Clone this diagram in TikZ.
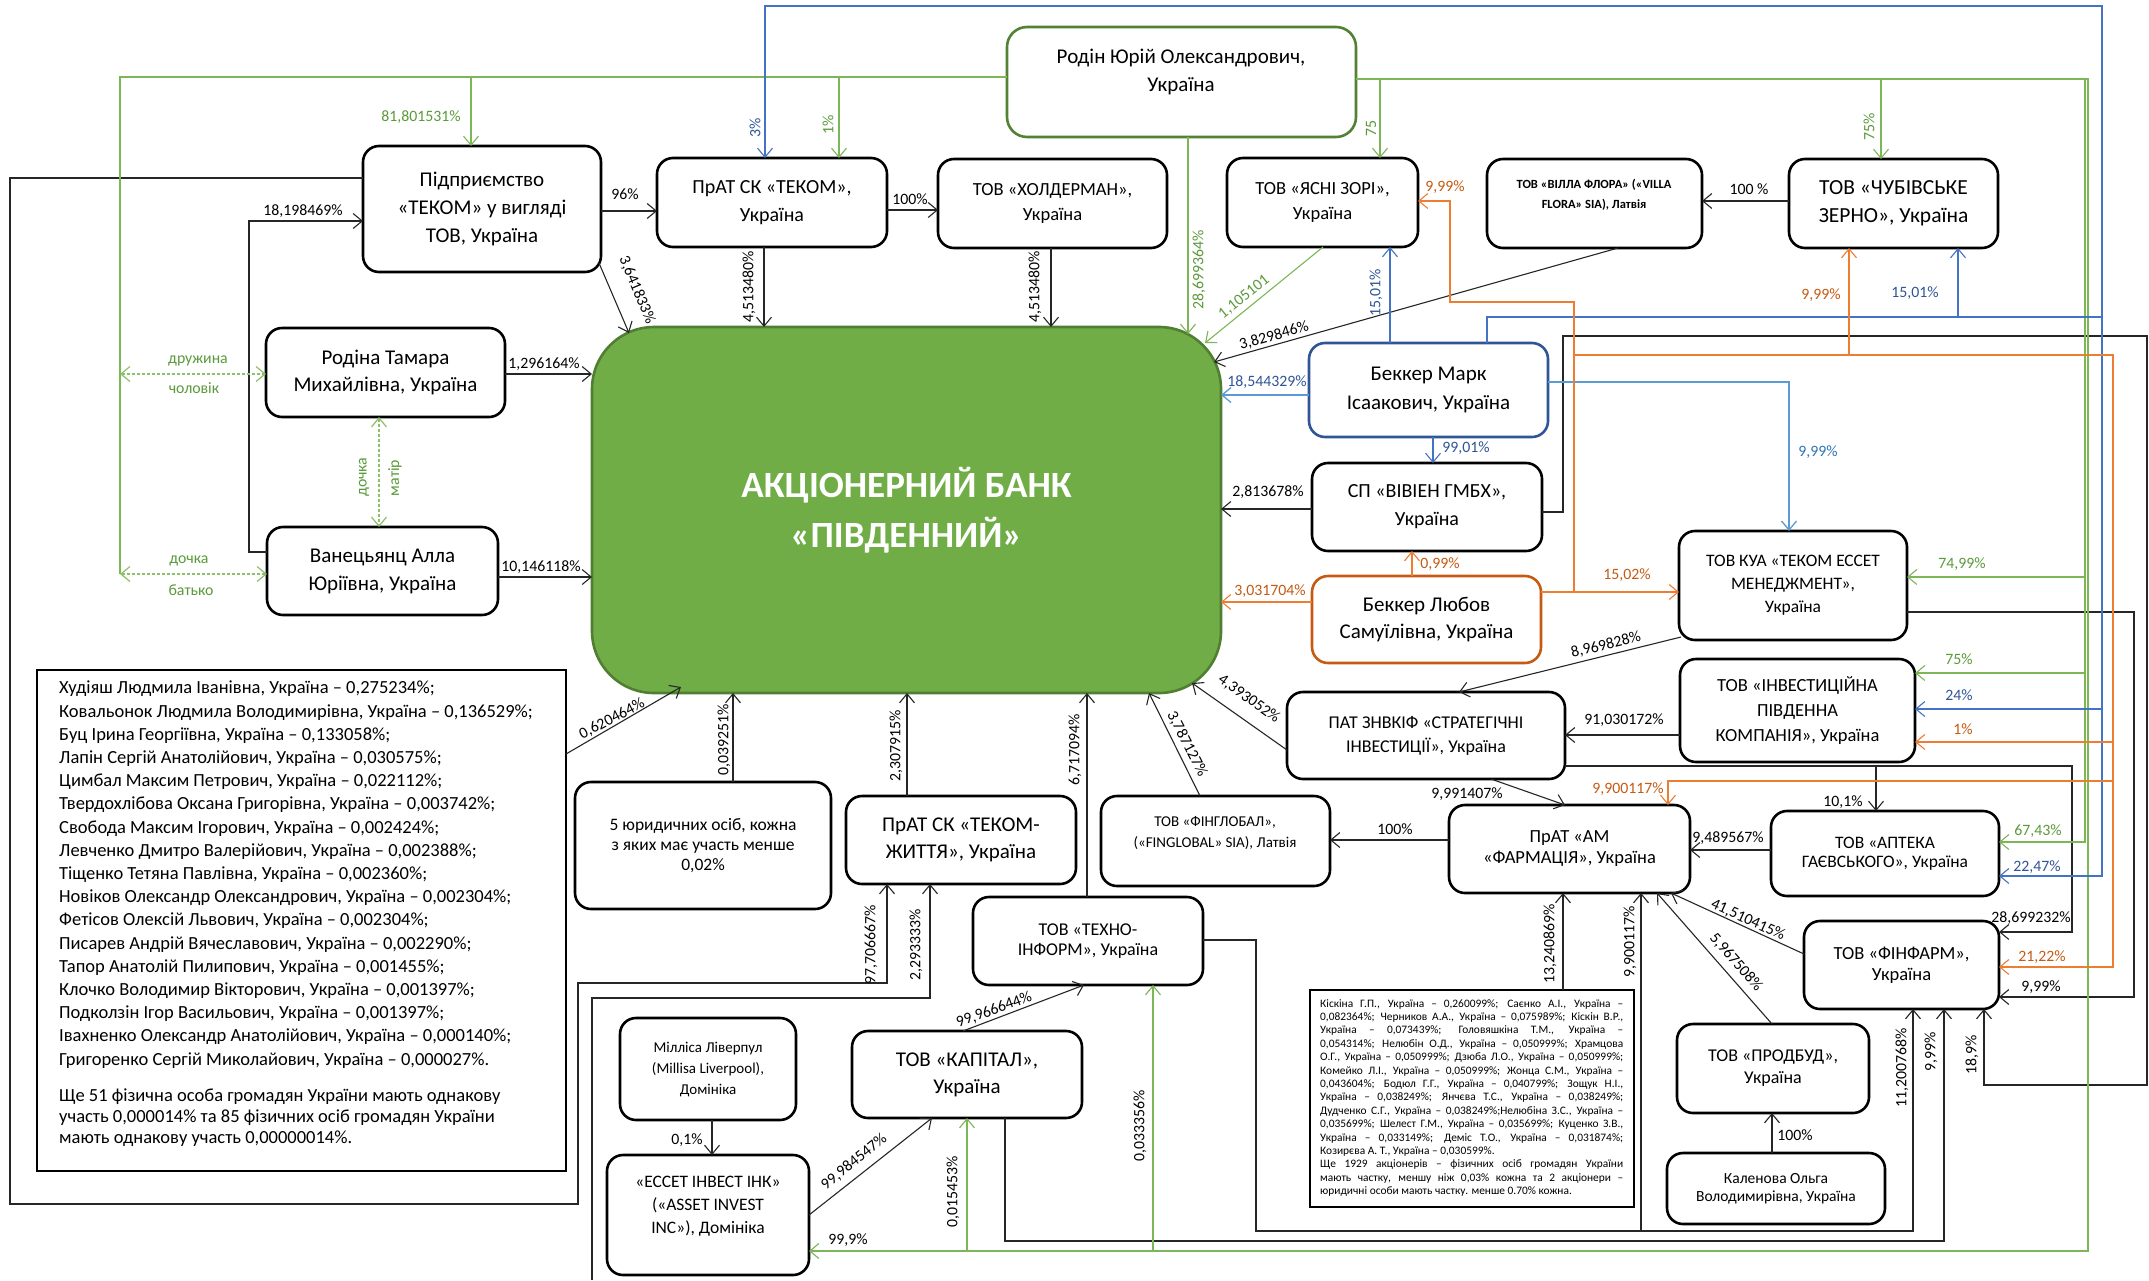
\documentclass[tikz,border=0pt]{standalone}
\usepackage{fontspec}
\setmainfont{Carlito}
\usetikzlibrary{arrows.meta}
\definecolor{bankG}{HTML}{70AD47}
\definecolor{bankD}{HTML}{507E32}
\definecolor{gBorder}{HTML}{548235}
\definecolor{gLine}{HTML}{7DB657}
\definecolor{gLab}{HTML}{5B9A3A}
\definecolor{gDash}{HTML}{8CC06A}
\definecolor{bBorder}{HTML}{2F5597}
\definecolor{bLine}{HTML}{4472C4}
\definecolor{bLight}{HTML}{5B9BD5}
\definecolor{bLab}{HTML}{2F5597}
\definecolor{bLab2}{HTML}{2E75B6}
\definecolor{oBorder}{HTML}{C55A11}
\definecolor{oLine}{HTML}{ED7D31}
\definecolor{oLab}{HTML}{C55A11}
\newcommand\fs[2]{\fontsize{#1}{#2}\selectfont}
\newcounter{lbc}
\newcommand\lb[4][]{\stepcounter{lbc}\node[lab,#1] (lab\thelbc) at (#2,#3) {#4};}
\newcommand\mkbox[7]{\node[box,minimum width={(#4)-(#2)},minimum height={(#5)-(#3)},#6] (#1) at ({((#2)+(#4))/2},{((#3)+(#5))/2}) {#7};}
\begin{document}
\begin{tikzpicture}[x=1pt,y=-1pt,
 box/.style={draw,line width=2.6pt,rounded corners=16pt,inner sep=0pt,outer sep=0pt,align=center,fill=white},
 con/.style={line width=1.1pt,draw=black!85},
 arr/.style={-{Straight Barb[length=9pt,width=15pt]}},
 lab/.style={font=\fs{15.8}{18},inner sep=0pt},
 gl/.style={line width=1.1pt,draw=gLine},
 bl/.style={line width=1.1pt,draw=bLine},
 bll/.style={line width=1.3pt,draw=bLight},
 ol/.style={line width=1.1pt,draw=oLine},
 dsh/.style={line width=1.2pt,draw=gDash,dash pattern=on 3pt off 2pt,{Straight Barb[length=9pt,width=15pt]}-{Straight Barb[length=9pt,width=15pt]}},
 txt/.style={inner sep=0pt,align=center}
]
\useasboundingbox (0,0) rectangle (2149,1280);
\fill[white] (0,0) rectangle (2149,1280);

% ---------- boxes ----------
\mkbox{rodin}{1007}{27}{1356}{137}{draw=gBorder,rounded corners=20pt}{}
\node[txt,font=\fs{21}{28}] (rodinT) at (1181,72) {Родін Юрій Олександрович,\\Україна};
\mkbox{tekom}{363}{146}{601}{272}{font=\fs{21}{28}}{Підприємство\\«ТЕКОМ» у вигляді\\ТОВ, Україна}
\mkbox{ska}{657}{158}{887}{247}{font=\fs{20}{28}}{ПрАТ СК «ТЕКОМ»,\\Україна}
\mkbox{hold}{938}{159}{1167}{248}{font=\fs{18.5}{25}}{ТОВ «ХОЛДЕРМАН»,\\Україна}
\mkbox{yasni}{1227}{158}{1418}{247}{font=\fs{18.5}{25}}{ТОВ «ЯСНІ ЗОРІ»,\\Україна}
\mkbox{villa}{1487}{159}{1702}{248}{}{}
\node[txt,font=\bfseries\fs{12.5}{20}] (villaT) at (1594,195) {ТОВ «ВІЛЛА ФЛОРА» («VILLA\\FLORA» SIA), Латвія};
\mkbox{chub}{1789}{159}{1998}{248}{font=\fs{21.5}{28}}{ТОВ «ЧУБІВСЬКЕ\\ЗЕРНО», Україна}
\mkbox{tamara}{266}{328}{505}{417}{font=\fs{21}{27}}{Родіна Тамара\\Михайлівна, Україна}
\mkbox{alla}{267}{527}{498}{615}{font=\fs{21}{28}}{Ванецьянц Алла\\Юріївна, Україна}
\mkbox{bank}{592}{327}{1221}{693}{fill=bankG,draw=bankD,rounded corners=62pt,text=white,font=\bfseries\fs{37}{50}}{АКЦІОНЕРНИЙ БАНК\\«ПІВДЕННИЙ»}
\mkbox{mark}{1309}{343}{1548}{437}{draw=bBorder,font=\fs{21}{29}}{Беккер Марк\\Ісаакович, Україна}
\mkbox{vivien}{1312}{463}{1542}{551}{font=\fs{20}{28}}{СП «ВІВІЕН ГМБХ»,\\Україна}
\mkbox{lyubov}{1312}{576}{1541}{663}{draw=oBorder,font=\fs{21}{27}}{Беккер Любов\\Самуїлівна, Україна}
\mkbox{kua}{1679}{531}{1907}{640}{font=\fs{17.5}{23}}{ТОВ КУА «ТЕКОМ ЕССЕТ\\МЕНЕДЖМЕНТ»,\\Україна}
\mkbox{invest}{1680}{659}{1915}{762}{font=\fs{18.5}{25}}{ТОВ «ІНВЕСТИЦІЙНА\\ПІВДЕННА\\КОМПАНІЯ», Україна}
\mkbox{strat}{1287}{692}{1565}{779}{font=\fs{18}{24}}{ПАТ ЗНВКІФ «СТРАТЕГІЧНІ\\ІНВЕСТИЦІЇ», Україна}
\mkbox{am}{1449}{805}{1690}{893}{font=\fs{18.5}{21}}{ПрАТ «АМ\\«ФАРМАЦІЯ», Україна}
\mkbox{apteka}{1771}{811}{1999}{896}{font=\fs{17.5}{19.5}}{ТОВ «АПТЕКА\\ГАЄВСЬКОГО», Україна}
\mkbox{finfarm}{1804}{921}{1999}{1009}{font=\fs{18.5}{21}}{ТОВ «ФІНФАРМ»,\\Україна}
\mkbox{finglob}{1101}{796}{1330}{886}{}{}
\node[txt,font=\fs{15}{21}] (finglobT) at (1215,833) {ТОВ «ФІНГЛОБАЛ»,\\(«FINGLOBAL» SIA), Латвія};
\mkbox{five}{575}{782}{831}{909}{font=\fs{17.5}{20}}{5 юридичних осіб, кожна\\з яких має участь менше\\0,02\%}
\mkbox{zhyttia}{846}{796}{1076}{884}{font=\fs{21}{27}}{ПрАТ СК «ТЕКОМ-\\ЖИТТЯ», Україна}
\mkbox{tekhno}{973}{897}{1203}{985}{font=\fs{18}{20}}{ТОВ «ТЕХНО-\\ІНФОРМ», Україна}
\mkbox{millisa}{620}{1018}{796}{1120}{font=\fs{15}{21}}{Мілліса Ліверпул\\(Millisa Liverpool),\\Домініка}
\mkbox{kapital}{852}{1031}{1082}{1118}{font=\fs{21}{27}}{ТОВ «КАПІТАЛ»,\\Україна}
\mkbox{asset}{607}{1155}{809}{1275}{}{}
\node[txt,font=\fs{17.5}{23}] (assetT) at (708,1206) {«ЕССЕТ ІНВЕСТ ІНК»\\(«ASSET INVEST\\INC»), Домініка};
\mkbox{prodbud}{1677}{1024}{1869}{1113}{font=\fs{18}{22}}{ТОВ «ПРОДБУД»,\\Україна}
\mkbox{kalenova}{1667}{1153}{1885}{1224}{font=\fs{15.5}{17.5}}{Каленова Ольга\\Володимирівна, Україна}
\mkbox{listL}{37}{670}{566}{1171}{rounded corners=0pt}{}
\node[anchor=north west,align=left,inner sep=0pt,font=\fs{18.5}{23.2}] (listLa) at (59,681) {%
Худіяш Людмила Іванівна, Україна – 0,275234\%;\\
Ковальонок Людмила Володимирівна, Україна – 0,136529\%;\\
Буц Ірина Георгіївна, Україна – 0,133058\%;\\
Лапін Сергій Анатолійович, Україна – 0,030575\%;\\
Цимбал Максим Петрович, Україна – 0,022112\%;\\
Твердохлібова Оксана Григорівна, Україна – 0,003742\%;\\
Свобода Максим Ігорович, Україна – 0,002424\%;\\
Левченко Дмитро Валерійович, Україна – 0,002388\%;\\
Тіщенко Тетяна Павлівна, Україна – 0,002360\%;\\
Новіков Олександр Олександрович, Україна – 0,002304\%;\\
Фетісов Олексій Львович, Україна – 0,002304\%;\\
Писарев Андрій Вячеславович, Україна – 0,002290\%;\\
Тапор Анатолій Пилипович, Україна – 0,001455\%;\\
Клочко Володимир Вікторович, Україна – 0,001397\%;\\
Подколзін Ігор Васильович, Україна – 0,001397\%;\\
Івахненко Олександр Анатолійович, Україна – 0,000140\%;\\
Григоренко Сергій Миколайович, Україна – 0,000027\%.};
\node[anchor=north west,align=left,inner sep=0pt,font=\fs{18.5}{20.7}] (listLb) at (59,1089) {%
Ще 51 фізична особа громадян України мають однакову\\
участь 0,000014\% та 85 фізичних осіб громадян України\\
мають однакову участь 0,00000014\%.};
\mkbox{listR}{1310}{990}{1634}{1207}{rounded corners=0pt}{}
\node[anchor=north west,inner sep=0pt,text width=303pt,align=justify,font=\fs{11.4}{13.4}] (listRa) at (1320,999) {\parindent=0pt\hyphenpenalty=10000\tolerance=10000%
Кіскіна Г.П., Україна – 0,260099\%; Саєнко А.І., Україна –\linebreak
0,082364\%; Черников А.А., Україна – 0,075989\%; Кіскін В.Р.,\linebreak
Україна – 0,073439\%; Головяшкіна Т.М., Україна –\linebreak
0,054314\%; Нелюбін О.Д., Україна – 0,050999\%; Храмцова\linebreak
О.Г., Україна – 0,050999\%; Дзюба Л.О., Україна – 0,050999\%;\linebreak
Комейко Л.І., Україна – 0,050999\%; Жонца С.М., Україна –\linebreak
0,043604\%; Бодюл Г.Г., Україна – 0,040799\%; Зощук Н.І.,\linebreak
Україна – 0,038249\%; Янчєва Т.С., Україна – 0,038249\%;\linebreak
Дудченко С.Г., Україна – 0,038249\%;Нелюбіна З.С., Україна –\linebreak
0,035699\%; Шелест Г.М., Україна – 0,035699\%; Куценко З.В.,\linebreak
Україна – 0,033149\%; Деміс Т.О., Україна – 0,031874\%;\linebreak
Козирєва А. Т., Україна – 0,030599\%.\par
Ще 1929 акціонерів – фізичних осіб громадян України\linebreak
мають частку, меншу ніж 0,03\% кожна та 2 акціонери –\linebreak
юридичні особи мають частку. менше 0.70\% кожна.};

% ---------- black connectors ----------
\draw[con,arr] (tekom.east |- 0,211) -- (ska.west |- 0,211);
\lb{625}{194}{96\%}
\draw[con,arr] (ska.east |- 0,210) -- (hold.west |- 0,210);
\lb{910}{199}{100\%}
\draw[con,arr] (764,0 |- ska.south) -- (764,0 |- bank.north);
\lb[rotate=90]{749}{287}{4,513480\%}
\draw[con,arr] (1051,0 |- hold.south) -- (1051,0 |- bank.north);
\lb[rotate=90]{1035}{287}{4,513480\%}
\draw[con,arr] ([shift={(-2,-9)}]tekom.south east) -- ([shift={(37,6)}]bank.north west);
\lb[rotate=-67]{637}{290}{3,641833\%}
\draw[con,arr] (1618,0 |- villa.south) -- ([shift={(-7,35)}]bank.north east);
\lb[rotate=15.6]{1274}{336}{3,829846\%}
\draw[con,arr] (tamara.east |- 0,374) -- (bank.west |- 0,374);
\lb{544}{364}{1,296164\%}
\draw[con,arr] (alla.east |- 0,577) -- (bank.west |- 0,577);
\lb{541}{567}{10,146118\%}
\draw[con,arr] (alla.west |- 0,552) -- (249,552) -- (249,221) -- (tekom.west |- 0,221);
\lb{303}{211}{18,198469\%}
\draw[con,arr] (tekom.west |- 0,178) -- (10,178) -- (10,1204) -- (578,1204) -- (578,983) -- (887,983) -- (887,0 |- zhyttia.south);
\lb[rotate=90]{871}{945}{97,706667\%}
\coordinate (botin) at (592,1280);
\draw[con,arr] (botin) -- (592,998) -- (930,998) -- (930,0 |- zhyttia.south);
\lb[rotate=90]{916}{945}{2,293333\%}
\draw[con,arr] (listL.east |- 0,754) -- ([shift={(89,-6)}]bank.south west);
\lb[rotate=27.7]{612}{719}{0,620464\%}
\draw[con,arr] (733,0 |- five.north) -- (733,0 |- bank.south);
\lb[rotate=90]{724}{740}{0,039251\%}
\draw[con,arr] (907,0 |- zhyttia.north) -- (907,0 |- bank.south);
\lb[rotate=90]{896}{746}{2,307915\%}
\draw[con,arr] (1087,0 |- tekhno.north) -- (1087,0 |- bank.south);
\lb[rotate=90]{1075}{750}{6,717094\%}
\draw[con,arr] (1200,0 |- finglob.north) -- (1149,0 |- bank.south);
\lb[rotate=-63]{1187}{744}{3,787127\%}
\draw[con,arr] (strat.west |- 0,750) -- ([shift={(-29,-10)}]bank.south east);
\lb[rotate=-35.5]{1249}{699}{4,393052\%}
\draw[con,arr] (vivien.west |- 0,509) -- (bank.east |- 0,509);
\lb{1268}{492}{2,813678\%}
\draw[con,arr] (vivien.east |- 0,512) -- (1563,512) -- (1563,336) -- (2147,336) -- (2147,1085) -- (1984,1085) -- (1984,0 |- finfarm.south);
\lb[rotate=90]{1972}{1055}{18,9\%}
\draw[con,arr] (kua.east |- 0,612) -- (2134,612) -- (2134,997) -- (finfarm.east |- 0,997);
\lb{2041}{987}{9,99\%}
\draw[con,arr] ([shift={(2,-3)}]kua.south west) -- (1459,0 |- strat.north);
\lb[rotate=13.8]{1606}{645}{8,969828\%}
\draw[con,arr] (invest.west |- 0,735) -- (strat.east |- 0,735);
\lb{1624}{720}{91,030172\%}
\draw[con,arr] (1491,0 |- strat.south) -- (1565,0 |- am.north);
\lb{1467}{794}{9,991407\%}
\draw[con,arr] (strat.east |- 0,766) -- (2072,766) -- (2072,932) -- (finfarm.east |- 0,932);
\lb{2031}{918}{28,699232\%}
\draw[con,arr] (strat.east |- 0,766) -| (1876,0 |- apteka.north);
\lb{1843}{802}{10,1\%}
\draw[con,arr] (apteka.west |- 0,850) -- (am.east |- 0,850);
\lb{1728}{838}{9,489567\%}
\draw[con,arr] (am.west |- 0,840) -- (finglob.east |- 0,840);
\lb{1395}{829}{100\%}
\draw[con,arr] (finfarm.west |- 0,954) -- (1671,0 |- am.south);
\lb[rotate=-24.4]{1748}{920}{41,510415\%}
\draw[con,arr] (1772,0 |- prodbud.north) -- (1657,0 |- am.south);
\lb[rotate=-48.7]{1736}{962}{5,967508\%}
\draw[con,arr] (1563,0 |- listR.north) -- (1563,0 |- am.south);
\lb[rotate=90]{1550}{944}{13,240869\%}
\draw[con,arr] (tekhno.east |- 0,940) -- (1256,940) -- (1256,1231) -- (1913,1231) -- (1913,0 |- finfarm.south);
\lb[rotate=90]{1902}{1068}{11,200768\%}
\draw[con,arr] (tekhno.east |- 0,940) -- (1256,940) -- (1256,1231) -| (1641,0 |- am.south);
\lb[rotate=90]{1630}{942}{9,900117\%}
\draw[con,arr] (1005,0 |- kapital.south) -- (1005,1241) -- (1944,1241) -- (1944,0 |- finfarm.south);
\lb[rotate=90]{1931}{1052}{9,99\%}
\draw[con,arr] (963,0 |- kapital.north) -- (1084,0 |- tekhno.south);
\lb[rotate=20]{994}{1010}{99,966644\%}
\draw[con,arr] (asset.east |- 0,1215) -- (932,0 |- kapital.south);
\lb[rotate=38.7]{854}{1162}{99,984547\%}
\draw[con,arr] (712,0 |- millisa.south) -- (712,0 |- asset.north);
\lb{687}{1140}{0,1\%}
\draw[con,arr] (chub.west |- 0,201) -- (villa.east |- 0,201);
\lb{1749}{189}{100 \%}
\draw[con,arr] (1772,0 |- kalenova.north) -- (1772,0 |- prodbud.south);
\lb{1795}{1135}{100\%}

% ---------- green connectors ----------
\draw[gl,arr] (rodin.west |- 0,77) -| (471,0 |- tekom.north);
\lb[text=gLab]{421}{117}{81,801531\%}
\draw[gl,arr] (rodin.west |- 0,77) -| (839,0 |- ska.north);
\lb[rotate=90,text=gLab]{828}{125}{1\%}
\draw[gl] (rodin.west |- 0,77) -| (120,574);
\coordinate (famA) at (120,374);
\coordinate (famB) at (120,574);
\draw[dsh] (famA) -- (tamara.west |- 0,374);
\draw[dsh] (famB) -- (alla.west |- 0,574);
\lb[text=gLab]{198}{361}{дружина}
\lb[text=gLab]{194}{388}{чоловік}
\lb[text=gLab]{189}{561}{дочка}
\lb[text=gLab]{191}{590}{батько}
\draw[dsh] (379,0 |- tamara.south) -- (379,0 |- alla.north);
\lb[rotate=90,text=gLab]{364}{477}{дочка}
\lb[rotate=90,text=gLab]{395}{478}{матір}
\draw[gl,arr] (1188,0 |- rodin.south) -- ([shift={(-33,7)}]bank.north east);
\lb[rotate=90,text=gLab]{1199}{270}{28,699364\%}
\draw[gl,arr] (1323,0 |- yasni.south) -- ([shift={(-16,16)}]bank.north east);
\lb[rotate=38.8,text=gLab]{1244}{297}{1,105101}
\draw[gl,arr] (rodin.east |- 0,79) -| (1380,0 |- yasni.north);
\lb[rotate=90,text=gLab]{1371}{128}{75}
\draw[gl,arr] (rodin.east |- 0,79) -| (1881,0 |- chub.north);
\lb[rotate=90,text=gLab]{1869}{127}{75\%}
\draw[gl,arr] (rodin.east |- 0,79) -| (2085,577) -- (kua.east |- 0,577);
\lb[text=gLab]{1962}{564}{74,99\%}
\draw[gl,arr] (rodin.east |- 0,79) -| (2085,673) -- (invest.east |- 0,673);
\lb[text=gLab]{1959}{659}{75\%}
\draw[gl,arr] (rodin.east |- 0,79) -| (2085,842) -- (apteka.east |- 0,842);
\lb[text=gLab]{2038}{831}{67,43\%}
\draw[gl,arr] (rodin.east |- 0,79) -| (2088,1251) -- (asset.east |- 0,1251);
\lb{848}{1240}{99,9\%}
\draw[gl,arr] (rodin.east |- 0,79) -| (2088,1251) -| (967,0 |- kapital.south);
\lb[rotate=90]{953}{1192}{0,015453\%}
\draw[gl,arr] (rodin.east |- 0,79) -| (2088,1251) -| (1153,0 |- tekhno.south);
\lb[rotate=90]{1140}{1126}{0,033356\%}

% ---------- blue connectors ----------
\draw[bl,arr] (1390,0 |- mark.north) -- (1390,0 |- yasni.south);
\lb[rotate=90,text=bLab]{1376}{293}{15,01\%}
\draw[bll,arr] (mark.west |- 0,395) -- (bank.east |- 0,395);
\lb[text=bLab]{1267}{382}{18,544329\%}
\draw[bl,arr] (1433,0 |- mark.south) -- (1433,0 |- vivien.north);
\lb[text=bLab]{1466}{448}{99,01\%}
\draw[bll,arr] (mark.east |- 0,382) -| (1789,0 |- kua.north);
\lb[text=bLab2]{1818}{452}{9,99\%}
\draw[bl,arr] (1487,0 |- mark.north) |- (1958,317) -- (1958,0 |- chub.south);
\lb[text=bLab]{1915}{293}{15,01\%}
\draw[bl,arr] (1487,0 |- mark.north) |- (2102,317) -- (2102,6) -| (765,0 |- ska.north);
\lb[rotate=90,text=bLab]{755}{128}{3\%}
\draw[bl,arr] (1487,0 |- mark.north) |- (2102,317) |- (invest.east |- 0,709);
\lb[text=bLab]{1959}{695}{24\%}
\draw[bl,arr] (1487,0 |- mark.north) |- (2102,317) |- (apteka.east |- 0,876);
\lb[text=bLab]{2037}{867}{22,47\%}

% ---------- orange connectors ----------
\draw[ol,arr] (lyubov.west |- 0,602) -- (bank.east |- 0,602);
\lb[text=oLab]{1270}{591}{3,031704\%}
\draw[ol,arr] (1412,0 |- lyubov.north) -- (1412,0 |- vivien.south);
\lb[text=oLab]{1440}{564}{0,99\%}
\draw[ol,arr] (lyubov.east |- 0,592) -- (kua.west |- 0,592);
\lb[text=oLab]{1627}{575}{15,02\%}
\draw[ol,arr] (lyubov.east |- 0,592) -| (1574,302) -| (1450,201) -- (yasni.east |- 0,201);
\lb[text=oLab]{1445}{187}{9,99\%}
\draw[ol,arr] (lyubov.east |- 0,592) -| (1574,355) -| (1849,0 |- chub.south);
\lb[text=oLab]{1821}{295}{9,99\%}
\draw[ol,arr] (lyubov.east |- 0,592) -| (1574,355) -| (2113,967) -- (finfarm.east |- 0,967);
\lb[text=oLab]{2042}{957}{21,22\%}
\draw[ol,arr] (lyubov.east |- 0,592) -| (1574,355) -| (2113,742) -- (invest.east |- 0,742);
\lb[text=oLab]{1963}{729}{1\%}
\draw[ol,arr] (lyubov.east |- 0,592) -| (1574,355) -| (2113,781) -| (1668,0 |- am.north);
\lb[text=oLab]{1628}{789}{9,900117\%}
\end{tikzpicture}
\end{document}
